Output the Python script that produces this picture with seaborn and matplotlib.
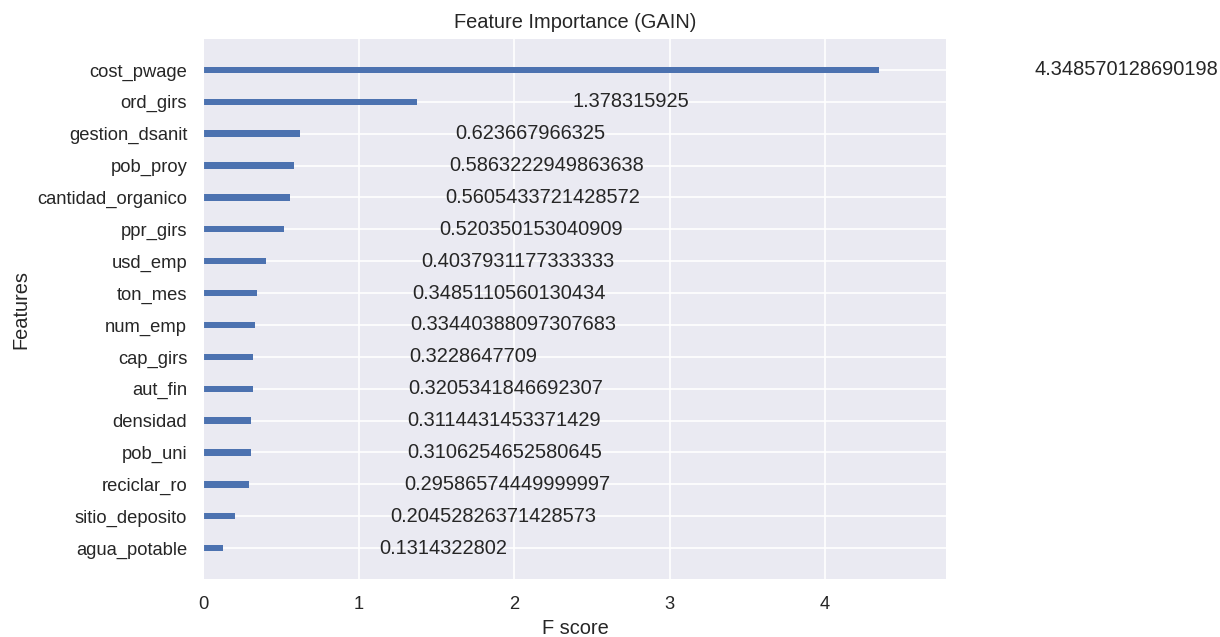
import matplotlib
matplotlib.use("Agg")
import matplotlib.pyplot as plt
import seaborn as sns

# Feature importance scores (gain), highest first
features = [
    "cost_pwage", "ord_girs", "gestion_dsanit", "pob_proy", "cantidad_organico",
    "ppr_girs", "usd_emp", "ton_mes", "num_emp", "cap_girs", "aut_fin",
    "densidad", "pob_uni", "reciclar_ro", "sitio_deposito", "agua_potable",
]
gain = [
    4.348570128690198, 1.378315925, 0.623667966325, 0.5863222949863638,
    0.5605433721428572, 0.520350153040909, 0.4037931177333333,
    0.3485110560130434, 0.33440388097307683, 0.3228647709,
    0.3205341846692307, 0.3114431453371429, 0.3106254652580645,
    0.29586574449999997, 0.20452826371428573, 0.1314322802,
]
x_ticks = [0, 1, 2, 3, 4]

sns.set_theme(style="darkgrid", context="notebook")
plt.rcParams["font.family"] = ["Liberation Sans", "DejaVu Sans"]

fig = plt.figure(figsize=(1220 / 120, 637 / 120), dpi=120)
ax = fig.add_axes([0.1664, 0.0895, 0.7762 - 0.1664, 0.9403 - 0.0895])

sns.barplot(x=gain, y=features, orient="h", width=0.2, color="#4C72B0",
            saturation=1, linewidth=0, ax=ax)

for i, v in enumerate(gain):
    ax.text(v + 1, i, str(v), va="center")

ax.set_xlim(0, max(gain) * 1.1)
ax.set_ylim(len(features), -1)
ax.set_xticks(x_ticks)
ax.yaxis.grid(True)
ax.xaxis.grid(True)
ax.set_title("Feature Importance (GAIN)")
ax.set_xlabel("F score")
ax.set_ylabel("Features")

fig.savefig("out.png", dpi=120)
